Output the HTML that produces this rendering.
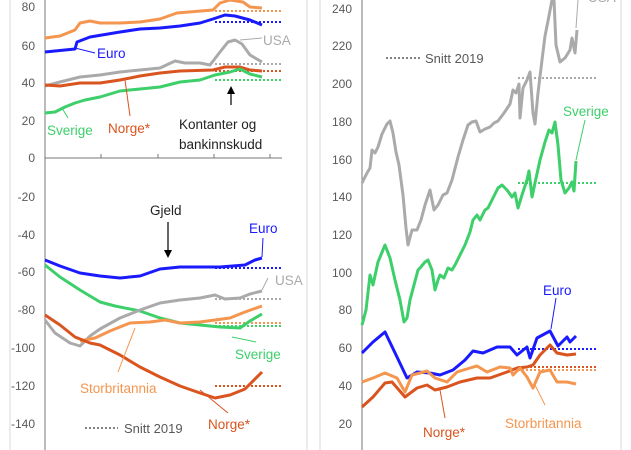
<!DOCTYPE html>
<html><head><meta charset="utf-8"><style>
html,body{margin:0;padding:0;background:#fff;}
svg{display:block;font-family:"Liberation Sans",sans-serif;}
.t{font-size:12px;fill:#595959;text-anchor:end;}
.l{font-size:13.5px;}
polyline{fill:none;stroke-width:3;stroke-linejoin:round;}
.d{stroke-width:2;stroke-dasharray:2 2;}
.ld{stroke-width:1;fill:none;}
</style></head><body>
<svg width="631" height="450" viewBox="0 0 631 450">
<rect x="10" y="-2" width="297" height="460" fill="none" stroke="#d9d9d9"/>
<rect x="320" y="-2" width="301" height="460" fill="none" stroke="#d9d9d9"/>
<!-- left axes -->
<line x1="45" y1="0" x2="45" y2="450" stroke="#777"/>
<line x1="45" y1="158" x2="282" y2="158" stroke="#777"/>
<g stroke="#777"><line x1="101" y1="158" x2="101" y2="154"/><line x1="158" y1="158" x2="158" y2="154"/><line x1="214" y1="158" x2="214" y2="154"/><line x1="270" y1="158" x2="270" y2="154"/></g>
<g class="t">
<text x="35" y="11">80</text><text x="35" y="50">60</text><text x="35" y="87">40</text><text x="35" y="125">20</text><text x="35" y="162">0</text><text x="35" y="201">-20</text><text x="35" y="239">-40</text><text x="35" y="276">-60</text><text x="35" y="314">-80</text><text x="35" y="352">-100</text><text x="35" y="390">-120</text><text x="35" y="428">-140</text>
</g>
<!-- left dotted -->
<line class="d" x1="215" y1="11" x2="282" y2="11" stroke="#f4964f"/>
<line class="d" x1="215" y1="22" x2="282" y2="22" stroke="#1a1aff"/>
<line class="d" x1="215" y1="64" x2="282" y2="64" stroke="#aaa"/>
<line class="d" x1="215" y1="71" x2="282" y2="71" stroke="#d9541e"/>
<line class="d" x1="215" y1="80" x2="282" y2="80" stroke="#3ccf6a"/>
<line class="d" x1="215" y1="268" x2="282" y2="268" stroke="#1a1aff"/>
<line class="d" x1="215" y1="299" x2="282" y2="299" stroke="#aaa"/>
<line class="d" x1="215" y1="323" x2="282" y2="323" stroke="#f4964f"/>
<line class="d" x1="215" y1="326" x2="282" y2="326" stroke="#3ccf6a"/>
<line class="d" x1="215" y1="386" x2="282" y2="386" stroke="#d9541e"/>
<!-- left series assets -->
<polyline stroke="#f4964f" points="45,38 60,36 75,30 80,23 90,21 100,23 120,23 140,22 160,19 177,13 213,10 220,3 230,0 243,2 250,7 262,8"/>
<polyline stroke="#1a1aff" points="45,52 75,49 77,42 90,37 120,32 140,29 160,28 180,26 200,23 213,19 225,15 235,16 250,20 262,25"/>
<polyline stroke="#aaa" points="45,86 60,82 80,77 100,75 120,72 140,70 160,68 175,61 185,63 200,63 210,65 220,52 228,42 235,40 242,44 250,55 262,62"/>
<polyline stroke="#d9541e" points="45,85 60,86 80,83 100,83 120,80 140,76 160,73 180,71 213,70 225,67 240,67 250,70 262,71"/>
<polyline stroke="#3ccf6a" points="45,113 55,112 65,107 75,103 85,100 100,97 120,91 140,89 160,87 180,82 200,80 215,75 230,72 240,69 250,74 262,77"/>
<!-- left series debt -->
<polyline stroke="#1a1aff" points="45,260 60,266 80,273 100,276 120,278 140,276 160,269 180,267 200,267 220,267 245,265 255,260 262,258"/>
<polyline stroke="#3ccf6a" points="45,265 60,277 80,290 100,302 115,306 140,311 160,318 180,323 200,325 220,327 240,328 250,321 262,314"/>
<polyline stroke="#aaa" points="45,320 55,333 70,343 80,346 90,336 100,329 120,318 140,310 160,303 180,300 200,298 215,295 225,299 240,298 250,294 262,291"/>
<polyline stroke="#f4964f" points="80,341 95,338 110,331 130,323 150,322 165,320 180,323 200,322 215,320 230,318 245,312 262,306"/>
<polyline stroke="#d9541e" points="45,315 60,325 75,337 90,343 100,345 120,355 140,367 160,377 180,386 200,393 215,398 230,395 245,389 262,372"/>
<!-- left leaders & labels -->
<line class="ld" x1="75" y1="48" x2="95" y2="53" stroke="#1a1aff"/>
<line class="ld" x1="240" y1="40" x2="262" y2="38" stroke="#aaa"/>
<line class="ld" x1="62" y1="108" x2="68" y2="118" stroke="#3ccf6a"/>
<line class="ld" x1="125" y1="80" x2="130" y2="116" stroke="#d9541e"/>
<line class="ld" x1="262" y1="257" x2="263" y2="238" stroke="#1a1aff"/>
<line class="ld" x1="262" y1="290" x2="268" y2="278" stroke="#aaa"/>
<line class="ld" x1="232" y1="337" x2="256" y2="342" stroke="#3ccf6a"/>
<line class="ld" x1="118" y1="372" x2="135" y2="328" stroke="#f4964f"/>
<line class="ld" x1="200" y1="390" x2="228" y2="413" stroke="#d9541e"/>
<g class="l">
<text x="97" y="58" fill="#1a1aff">Euro</text>
<text x="263" y="45" fill="#aaa">USA</text>
<text x="47" y="135" fill="#3ccf6a">Sverige</text>
<text x="108" y="133" fill="#d9541e">Norge*</text>
<text x="179" y="129" fill="#222">Kontanter og</text>
<text x="179" y="149" fill="#222">bankinnskudd</text>
<text x="150" y="215" fill="#222">Gjeld</text>
<text x="249" y="233" fill="#1a1aff">Euro</text>
<text x="275" y="285" fill="#aaa">USA</text>
<text x="235" y="359" fill="#3ccf6a">Sverige</text>
<text x="80" y="393" fill="#f4964f">Storbritannia</text>
<text x="208" y="429" fill="#d9541e">Norge*</text>
<text x="124" y="433" fill="#595959" style="font-size:13px">Snitt 2019</text>
</g>
<line x1="85" y1="428" x2="118" y2="428" stroke="#595959" stroke-width="1.5" stroke-dasharray="2 2"/>
<!-- arrows -->
<line x1="231" y1="105" x2="231" y2="92" stroke="#000" stroke-width="1.2"/>
<polygon points="227,94 235,94 231,86" fill="#000"/>
<line x1="168" y1="222" x2="168" y2="252" stroke="#000" stroke-width="1.2"/>
<polygon points="164,250 172,250 168,258" fill="#000"/>

<!-- right axes -->
<line x1="362" y1="0" x2="362" y2="450" stroke="#777"/>
<g class="t">
<text x="352" y="13">240</text><text x="352" y="50">220</text><text x="352" y="88">200</text><text x="352" y="126">180</text><text x="352" y="164">160</text><text x="352" y="201">140</text><text x="352" y="239">120</text><text x="352" y="277">100</text><text x="352" y="314">80</text><text x="352" y="352">60</text><text x="352" y="390">40</text><text x="352" y="428">20</text>
</g>
<line class="d" x1="518" y1="78" x2="596" y2="78" stroke="#aaa"/>
<line class="d" x1="518" y1="183" x2="596" y2="183" stroke="#3ccf6a"/>
<line class="d" x1="518" y1="349" x2="596" y2="349" stroke="#1a1aff"/>
<line class="d" x1="518" y1="367" x2="596" y2="367" stroke="#d9541e"/>
<line class="d" x1="518" y1="370" x2="596" y2="370" stroke="#f4964f"/>
<polyline stroke="#aaa" points="362,183 367,173 370,168 372,150 375,153 378,147 382,134 387,124 390,121 393,133 396,152 399,165 403,195 406,228 408,245 412,230 417,230 421,220 425,205 430,190 434,210 438,205 443,195 447,193 452,180 458,157 463,140 468,125 472,122 476,121 480,132 485,129 490,127 494,123 498,121 504,113 510,104 513,90 516,93 519,84 520,118 523,88 527,80 530,72 533,113 535,124 538,93 542,60 545,36 548,21 552,0 553,-5 554,0 556,45 560,62 565,58 570,50 572,38 575,53 577,30"/>
<polyline stroke="#3ccf6a" points="362,325 366,310 370,275 373,285 378,262 385,245 390,258 395,280 400,300 404,322 407,318 410,300 414,285 418,270 420,268 425,262 428,260 432,270 435,290 438,280 440,275 444,278 448,268 452,270 455,265 460,255 465,245 470,232 473,220 477,215 480,220 485,210 488,208 493,198 498,188 502,185 507,190 512,197 515,193 518,208 522,195 527,180 529,171 532,197 535,183 540,160 545,142 549,130 552,133 555,122 558,145 561,180 565,193 569,188 572,182 574,191 576,161"/>
<polyline stroke="#1a1aff" points="362,353 373,342 385,332 397,357 407,378 417,372 430,373 440,375 453,370 465,360 473,351 483,353 497,347 510,347 517,355 527,347 530,358 537,338 550,331 558,346 567,337 570,342 576,336"/>
<polyline stroke="#d9541e" points="362,407 373,397 385,383 392,382 405,397 417,388 427,385 435,390 447,387 460,382 477,378 490,378 507,372 517,368 527,367 533,365 540,355 550,345 557,353 567,355 576,354"/>
<polyline stroke="#f4964f" points="362,382 373,378 385,373 397,378 405,392 412,375 420,373 427,371 435,378 447,382 457,372 470,368 477,366 487,372 500,367 510,368 513,375 520,368 527,377 533,388 540,372 550,370 557,382 567,382 576,384"/>
<line class="ld" x1="576" y1="28" x2="578" y2="0" stroke="#aaa"/>
<line class="ld" x1="576" y1="160" x2="585" y2="120" stroke="#3ccf6a"/>
<line class="ld" x1="551" y1="329" x2="556" y2="298" stroke="#1a1aff"/>
<line class="ld" x1="440" y1="390" x2="445" y2="418" stroke="#d9541e"/>
<line class="ld" x1="535" y1="385" x2="545" y2="405" stroke="#f4964f"/>
<g class="l">
<text x="588" y="2" fill="#aaa">USA</text>
<text x="563" y="116" fill="#3ccf6a">Sverige</text>
<text x="543" y="295" fill="#1a1aff">Euro</text>
<text x="423" y="437" fill="#d9541e">Norge*</text>
<text x="505" y="428" fill="#f4964f">Storbritannia</text>
<text x="425" y="63" fill="#595959" style="font-size:13px">Snitt 2019</text>
</g>
<line x1="386" y1="58" x2="420" y2="58" stroke="#595959" stroke-width="1.5" stroke-dasharray="2 2"/>
</svg>
</body></html>
